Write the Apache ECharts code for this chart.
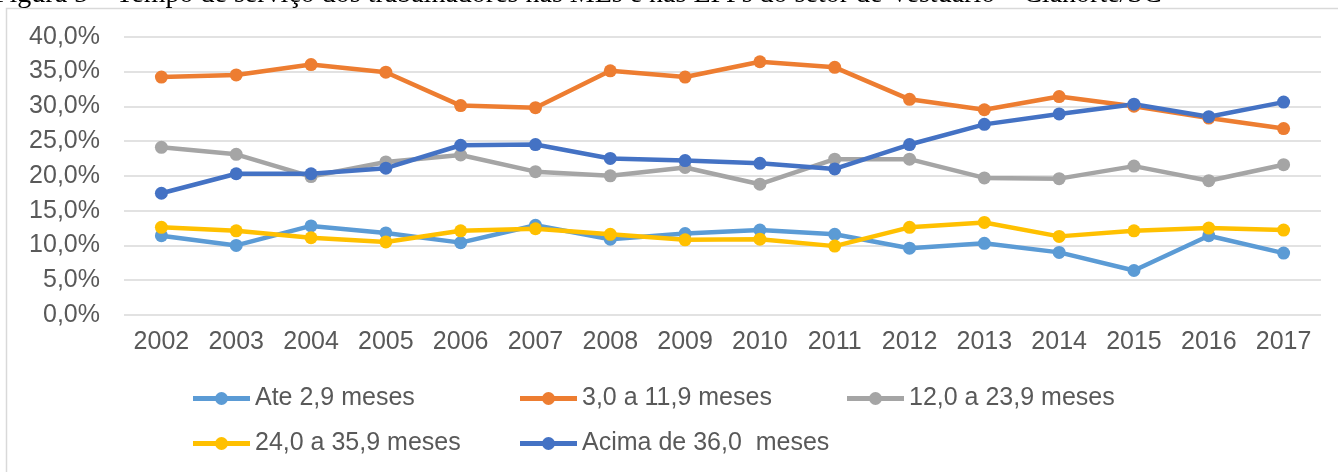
<!DOCTYPE html>
<html>
<head>
<meta charset="utf-8">
<script src="https://cdn.jsdelivr.net/npm/echarts@6/dist/echarts.min.js"></script>
<style>
html,body{margin:0;padding:0;background:#fff;}
#chart{width:1338px;height:472px;}
</style>
</head>
<body>
<div id="chart"></div>
<script>
const years = ['2002','2003','2004','2005','2006','2007','2008','2009','2010','2011','2012','2013','2014','2015','2016','2017'];
const seriesNames = ['Ate 2,9 meses','3,0 a 11,9 meses','12,0 a 23,9 meses','24,0 a 35,9 meses','Acima de 36,0  meses'];
const ate29 =      [11.4, 10.0, 12.8, 11.8, 10.4, 12.9, 10.9, 11.7, 12.2, 11.6, 9.6, 10.3, 9.0, 6.4, 11.4, 8.9];
const de3a119 =    [34.2, 34.5, 36.0, 34.9, 30.1, 29.8, 35.1, 34.2, 36.4, 35.6, 31.0, 29.5, 31.4, 30.0, 28.3, 26.8];
const de12a239 =   [24.1, 23.1, 19.9, 22.0, 23.0, 20.6, 20.0, 21.2, 18.8, 22.4, 22.4, 19.7, 19.6, 21.4, 19.3, 21.6];
const de24a359 =   [12.6, 12.1, 11.1, 10.5, 12.1, 12.4, 11.6, 10.8, 10.9, 9.9, 12.6, 13.3, 11.3, 12.1, 12.5, 12.2];
const acima36 =    [17.5, 20.3, 20.3, 21.1, 24.4, 24.5, 22.5, 22.2, 21.8, 21.0, 24.5, 27.4, 28.9, 30.3, 28.5, 30.6];
const yTicks = [0, 5, 10, 15, 20, 25, 30, 35, 40];
const colors = ['#5B9BD5','#ED7D31','#A5A5A5','#FFC000','#4472C4'];
const titleText = 'Figura 5 – Tempo de serviço dos trabalhadores nas MEs e nas EPPs do setor de Vestuário – Cianorte/SC';

const dataSets = [ate29, de3a119, de12a239, de24a359, acima36];
const font = '"Liberation Sans", Arial, sans-serif';
const txtColor = '#595959';
const legendIcon = 'path://M0,5.5 L57,5.5 L57,10.5 L0,10.5 Z M22,8 A6.5,6.5 0 1,1 35,8 A6.5,6.5 0 1,1 22,8 Z';

const chart = echarts.init(document.getElementById('chart'), null, {renderer:'canvas'});
chart.setOption({
  animation: false,
  backgroundColor: '#ffffff',
  color: colors,
  graphic: [
    {type:'rect', shape:{x:6.5, y:8.5, width:1400, height:600}, style:{fill:'none', stroke:'#d9d9d9', lineWidth:1.5}, silent:true, z:-1},
    {type:'text', x:-6, y:-19, style:{text:titleText, font:'28px "Liberation Serif", "Times New Roman", serif', fill:'#000', textVerticalAlign:'top', textAlign:'left'}, silent:true}
  ],
  grid: {left:124, right:17, top:36.7, bottom:157, containLabel:false},
  xAxis: {
    type:'category', data: years, boundaryGap:true,
    axisLine:{show:false}, axisTick:{show:false},
    axisLabel:{color:txtColor, fontSize:25, fontFamily:font, margin:15}
  },
  yAxis: {
    type:'value', min:0, max:40, interval:5,
    axisLine:{show:false}, axisTick:{show:false},
    splitLine:{lineStyle:{color:'#d9d9d9', width:1.5}},
    axisLabel:{color:txtColor, fontSize:25, fontFamily:font, margin:24,
      formatter: v => v.toFixed(1).replace('.', ',') + '%'}
  },
  legend: {
    left:193, top:376, width:990, padding:0, itemGap:0, itemWidth:57, itemHeight:13,
    icon: legendIcon, symbolKeepAspect:false,
    data: seriesNames,
    textStyle:{color:txtColor, fontSize:25, fontFamily:font, width:265, lineHeight:45, padding:[0,0,0,0]}
  },
  series: seriesNames.map((n,i) => ({
    name:n, type:'line', data:dataSets[i],
    symbol:'circle', symbolSize:13,
    lineStyle:{width:4.5, color:colors[i]},
    itemStyle:{color:colors[i]},
    emphasis:{disabled:true}
  }))
});
</script>
</body>
</html>
